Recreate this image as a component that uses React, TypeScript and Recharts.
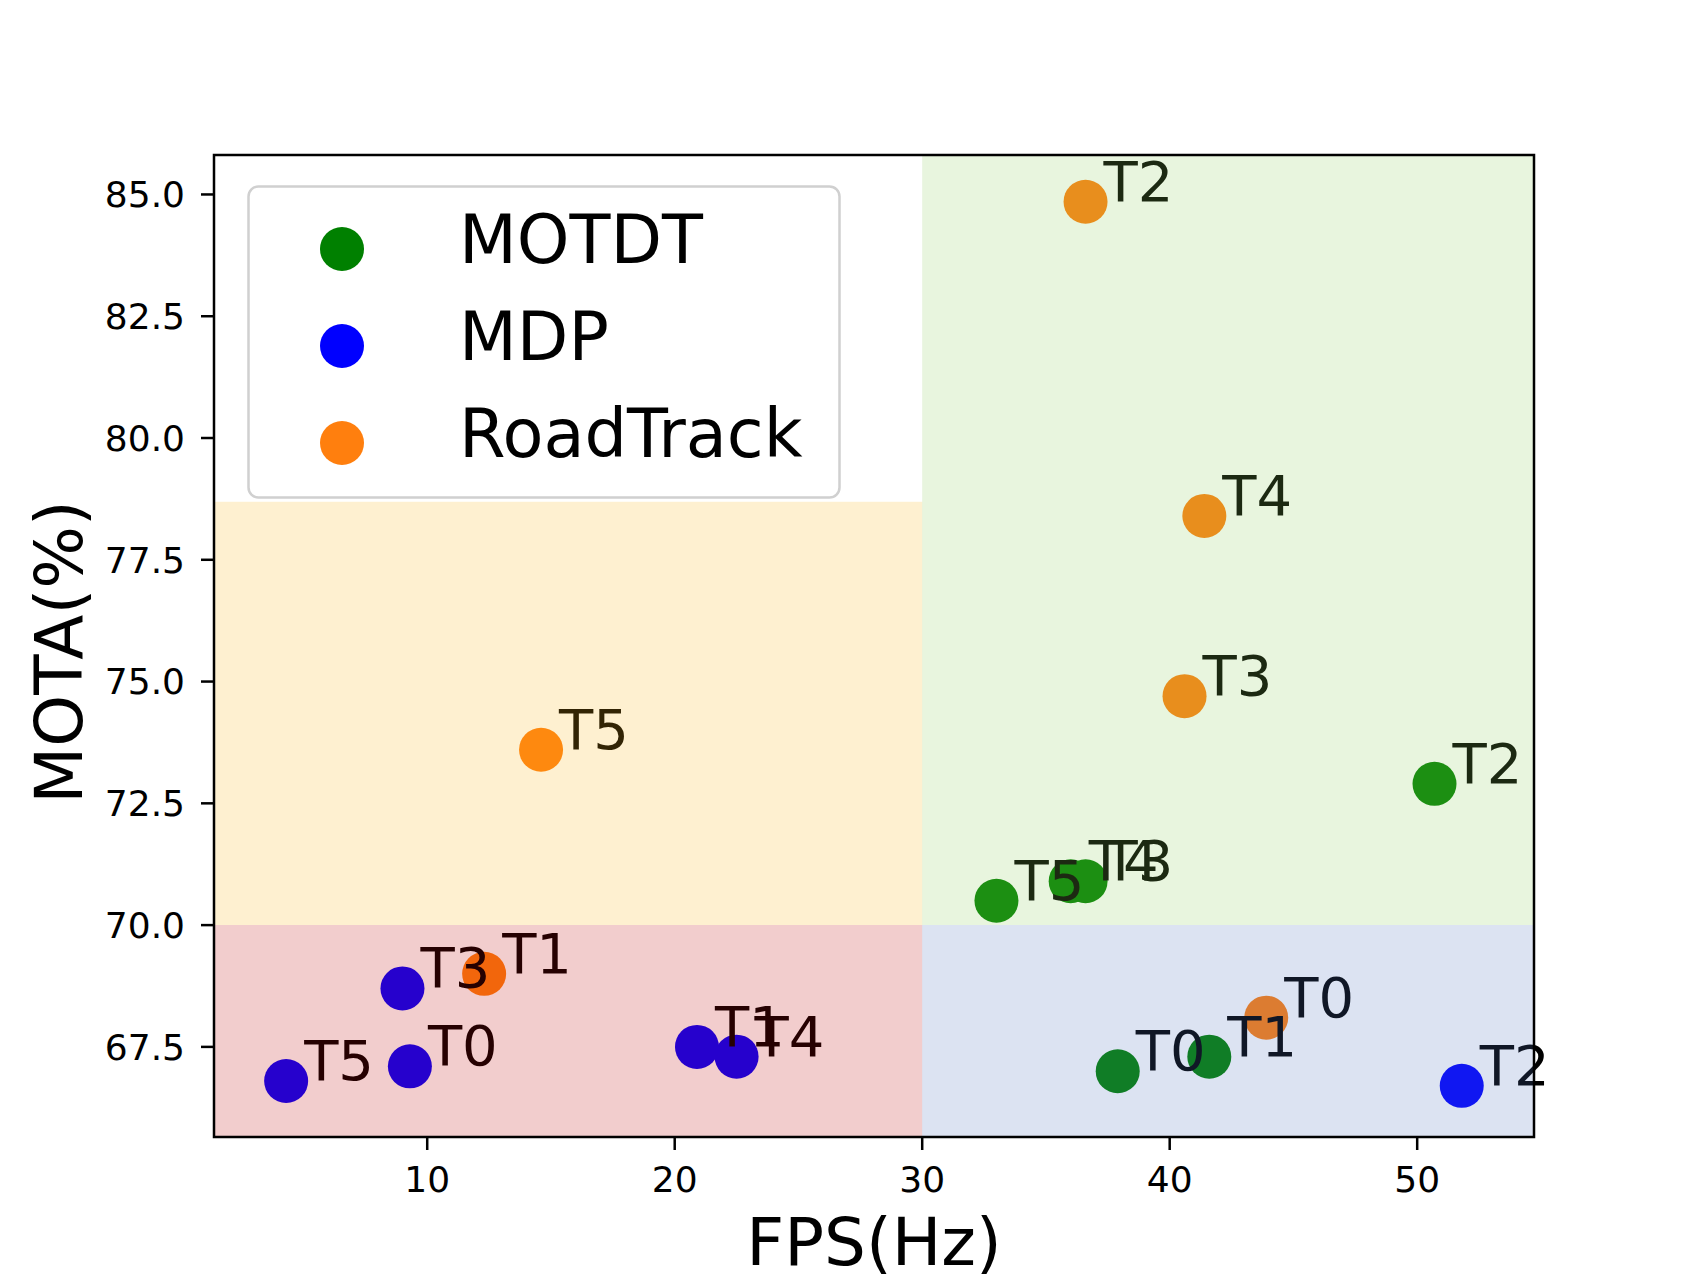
import React from 'react';
import { ScatterChart, Scatter, XAxis, YAxis, ReferenceArea, Legend, Label } from 'recharts';

const FONT = '"DejaVu Sans", "Liberation Sans", sans-serif';

// ---- data ----
const seriesNames = ['MOTDT', 'MDP', 'RoadTrack'];
const seriesColors = ['#008000', '#0000ff', '#ff7f0e'];

const motdtLabels = ['T0', 'T1', 'T2', 'T3', 'T4', 'T5'];
const motdtFps = [37.9, 41.6, 50.7, 36.6, 36.0, 33.0];
const motdtMota = [67.0, 67.3, 72.9, 70.9, 70.9, 70.5];

const mdpLabels = ['T0', 'T1', 'T2', 'T3', 'T4', 'T5'];
const mdpFps = [9.3, 20.9, 51.8, 9.0, 22.5, 4.3];
const mdpMota = [67.1, 67.5, 66.7, 68.7, 67.3, 66.8];

const roadLabels = ['T0', 'T1', 'T2', 'T3', 'T4', 'T5'];
const roadFps = [43.9, 12.3, 36.6, 40.6, 41.4, 14.6];
const roadMota = [68.1, 69.0, 84.85, 74.7, 78.4, 73.6];

const xTicks = [10, 20, 30, 40, 50];
const yTicks = [67.5, 70, 72.5, 75, 77.5, 80, 82.5, 85];

const X_MIN = 1.385;
const X_MAX = 54.72;
const Y_MIN = 65.65;
const Y_MAX = 85.81;

const FPS_SPLIT = 30;
const MOTA_SPLIT = 70;
const MOTA_WARN_TOP = 78.69;

const build = (labels: string[], xs: number[], ys: number[]) =>
  labels.map((label, i) => ({ x: xs[i], y: ys[i], label }));

const motdtData = build(motdtLabels, motdtFps, motdtMota);
const mdpData = build(mdpLabels, mdpFps, mdpMota);
const roadData = build(roadLabels, roadFps, roadMota);
const allSeries = [motdtData, mdpData, roadData];
const allLabels = [...motdtData, ...mdpData, ...roadData];

const makeDot = (color: string) => (props: any) => {
  const { cx, cy } = props;
  if (cx == null || cy == null) return <g />;
  return <circle cx={cx} cy={cy} r={22} fill={color} />;
};

const LabelShape = (props: any) => {
  const { cx, cy, payload } = props;
  if (cx == null || cy == null) return <g />;
  return (
    <text x={cx + 18} y={cy - 1} fontSize={56} fontFamily={FONT} fill="#000">
      {payload && payload.label}
    </text>
  );
};

const renderLegend = () => (
  <svg width={596} height={316} style={{ display: 'block' }}>
    <rect x={1.5} y={1.5} width={591} height={311} rx={10} ry={10} fill="#fff" stroke="#d0d0d0" strokeWidth={2.5} />
    {seriesNames.map((n, i) => (
      <g key={n}>
        <circle cx={95} cy={64 + i * 97} r={22} fill={seriesColors[i]} />
        <text x={212} y={78 + i * 97} fontSize={67} fontFamily={FONT} fill="#000">
          {n}
        </text>
      </g>
    ))}
  </svg>
);

const XLabel = (props: any) => {
  const vb = props.viewBox || {};
  return (
    <text x={vb.x + vb.width / 2} y={vb.y + 128} textAnchor="middle" fontSize={66} fontFamily={FONT} fill="#000">
      FPS(Hz)
    </text>
  );
};

const YLabel = (props: any) => {
  const vb = props.viewBox || {};
  const x = vb.x - 32;
  const y = vb.y + vb.height / 2 + 6;
  return (
    <text x={x} y={y} transform={`rotate(-90, ${x}, ${y})`} textAnchor="middle" fontSize={66} fontFamily={FONT} fill="#000">
      MOTA(%)
    </text>
  );
};

export default function App() {
  return (
    <div style={{ position: 'absolute', left: 0, top: 0, width: 1703, height: 1278, background: '#fff' }}>
      <ScatterChart width={1703} height={1278} margin={{ top: 155, right: 169, bottom: 81, left: 114 }}>
        <XAxis
          type="number"
          dataKey="x"
          domain={[X_MIN, X_MAX]}
          ticks={xTicks}
          interval={0}
          height={60}
          axisLine={false}
          tickSize={13}
          tickMargin={16}
          tickLine={{ stroke: '#000', strokeWidth: 2.5 }}
          tick={{ fontSize: 36, fill: '#000', fontFamily: FONT }}
        >
          <Label content={XLabel} />
        </XAxis>
        <YAxis
          type="number"
          dataKey="y"
          domain={[Y_MIN, Y_MAX]}
          ticks={yTicks}
          interval={0}
          width={100}
          axisLine={false}
          tickSize={13}
          tickMargin={16}
          tickFormatter={(v: number) => v.toFixed(1)}
          tickLine={{ stroke: '#000', strokeWidth: 2.5 }}
          tick={{ fontSize: 36, fill: '#000', fontFamily: FONT }}
        >
          <Label content={YLabel} />
        </YAxis>

        {allSeries.map((d, i) => (
          <Scatter
            key={seriesNames[i]}
            name={seriesNames[i]}
            data={d}
            fill={seriesColors[i]}
            shape={makeDot(seriesColors[i])}
            isAnimationActive={false}
          />
        ))}
        <Scatter name="labels" data={allLabels} fill="#000" shape={LabelShape} isAnimationActive={false} legendType="none" />

        <ReferenceArea x1={X_MIN} x2={FPS_SPLIT} y1={MOTA_SPLIT} y2={MOTA_WARN_TOP} fill="#FAB414" fillOpacity={0.2} stroke="none" ifOverflow="visible" zIndex={700} />
        <ReferenceArea x1={FPS_SPLIT} x2={X_MAX} y1={MOTA_SPLIT} y2={Y_MAX} fill="#8CCD5A" fillOpacity={0.2} stroke="none" ifOverflow="visible" zIndex={700} />
        <ReferenceArea x1={X_MIN} x2={FPS_SPLIT} y1={Y_MIN} y2={MOTA_SPLIT} fill="#BE0505" fillOpacity={0.2} stroke="none" ifOverflow="visible" zIndex={700} />
        <ReferenceArea x1={FPS_SPLIT} x2={X_MAX} y1={Y_MIN} y2={MOTA_SPLIT} fill="#5073BE" fillOpacity={0.2} stroke="none" ifOverflow="visible" zIndex={700} />
        <ReferenceArea x1={X_MIN} x2={X_MAX} y1={Y_MIN} y2={Y_MAX} fill="none" fillOpacity={0} stroke="#000" strokeWidth={2.5} ifOverflow="visible" zIndex={800} />

        <Legend
          layout="horizontal"
          verticalAlign="middle"
          align="center"
          content={renderLegend}
          wrapperStyle={{ left: 246.5, top: 185, width: 596, height: 316 }}
        />
      </ScatterChart>
    </div>
  );
}
